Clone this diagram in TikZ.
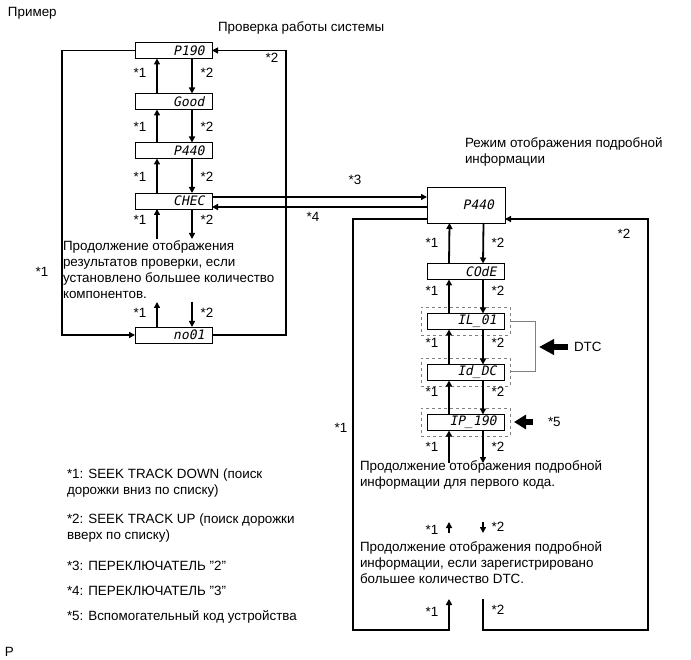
\documentclass[tikz,border=0pt]{standalone}
\usepackage{fontspec}
\setmainfont{Liberation Sans}
\newfontfamily\segfont[FakeSlant=0.2]{DejaVu Sans Mono}
\usetikzlibrary{arrows.meta}
\begin{document}
\begin{tikzpicture}[x=1pt,y=-1pt,
  every node/.style={inner sep=0pt, outer sep=0pt},
  txt/.style={font=\fontsize{13.4}{16}\selectfont, align=left},
  lbl/.style={font=\fontsize{13.4}{16}\selectfont},
  disp/.style={draw, line width=0.9pt, minimum height=16pt, text width=62pt, inner xsep=7.5pt, align=right, font=\segfont\fontsize{13}{13}\selectfont},
  dbox/.style={draw, dashed, gray, line width=0.8pt, minimum width=89pt, minimum height=28pt},
  arr/.style={line width=1.8pt, -{Triangle[length=6pt,width=6pt]}},
  fat/.style={line width=6pt, -{Triangle[length=15pt,width=15pt]}},
  fatsmall/.style={line width=6pt, -{Triangle[length=12pt,width=14pt]}},
  brk/.style={draw=gray, line width=1pt}
]
\useasboundingbox (0,0) rectangle (691,660);

% titles
\node[lbl, anchor=west] (t0) at (8,13) {Пример};
\node[lbl, anchor=west] (t1) at (218,28) {Проверка работы системы};
\node[txt, anchor=north west] (t2) at (465,138) {Режим отображения подробной\\информации};

% left column
\node[disp] (p190) at (173.5,50.5) {P190};
\node[disp] (good) at (173.5,101.5) {Good};
\node[disp] (p440a) at (173.5,150.5) {P440};
\node[disp] (chec) at (173.5,201) {CHEC};
\node[disp] (no01) at (173.5,335) {no01};

\foreach \a/\b in {good/p190, p440a/good, chec/p440a}{
  \draw[arr] ([xshift=-16.5pt]\a.north) -- ([xshift=-16.5pt]\b.south);
  \draw[arr] ([xshift=18.5pt]\b.south) -- ([xshift=18.5pt]\a.north);
}
\coordinate (cu1) at (157,239);
\coordinate (cd1) at (192,239);
\draw[arr] (cu1) -- (cu1 |- chec.south);
\draw[arr] (cd1 |- chec.south) -- (cd1);
\coordinate (nu1) at (157,302);
\coordinate (nd1) at (192,302);
\draw[arr] (nu1 |- no01.north) -- (nu1);
\draw[arr] (nd1) -- (nd1 |- no01.north);

\node[txt, anchor=north west] (ltext) at (63,241) {Продолжение отображения\\результатов проверки, если\\установлено большее количество\\компонентов.};

\coordinate (lx) at (62,335);
\draw[arr] (p190.west) -| (lx) -- (no01.west);
\coordinate (rx) at (286,335);
\draw[arr] (no01.east) -- (rx) |- (p190.east);

\foreach \y in {73,127,177,220,313}{
  \node[lbl] at (140,\y) {*1};
  \node[lbl] at (207,\y) {*2};
}
\node[lbl] (s2a) at (272,58) {*2};
\node[lbl] (s1a) at (42,272) {*1};

% big P440
\node[draw, line width=0.9pt, minimum width=78pt, minimum height=36pt, text width=56pt, inner xsep=11pt, align=right, font=\segfont\fontsize{13}{13}\selectfont] (big) at (466,205) {P440};

\draw[arr] ([yshift=4pt]chec.east) -- ([yshift=4pt]chec.east -| big.west);
\draw[arr] ([yshift=-6pt]chec.east -| big.west) -- ([yshift=-6pt]chec.east);
\node[lbl] (s3) at (355,180) {*3};
\node[lbl] (s4) at (313,217) {*4};

% right column
\node[disp] (code) at (465.5,271.5) {COdE};
\node[dbox] (ild) at (465.5,321.5) {};
\node[disp] (il) at (465.5,321.5) {IL\_01};
\node[dbox] (idd) at (465.5,372) {};
\node[disp] (id) at (465.5,372.5) {Id\_DC};
\node[dbox] (ipd) at (465.5,422) {};
\node[disp] (ip) at (465.5,422.5) {IP\_190};

\foreach \a/\b in {code/big, il/code, id/il, ip/id}{
  \draw[arr] ([xshift=-16.5pt]\a.north) -- ([xshift=-16.5pt]\b.south);
  \draw[arr] ([xshift=17.5pt]\b.south) -- ([xshift=17.5pt]\a.north);
}
\coordinate (iu1) at (449,463);
\coordinate (id1) at (483,463);
\draw[arr] (iu1) -- (iu1 |- ip.south);
\draw[arr] (id1 |- ip.south) -- (id1);

\foreach \y in {243,291,343,392,447}{
  \node[lbl] at (432,\y) {*1};
  \node[lbl] at (498,\y) {*2};
}

\node[txt, anchor=north west] (rtext1) at (360,461) {Продолжение отображения подробной\\информации для первого кода.};

\coordinate (mu0) at (449,533);
\coordinate (mu1) at (449,522);
\coordinate (md0) at (483,522);
\coordinate (md1) at (483,533);
\draw[arr] (mu0) -- (mu1);
\draw[arr] (md0) -- (md1);
\node[lbl] at (432,530) {*1};
\node[lbl] at (498,527) {*2};

\node[txt, anchor=north west] (rtext2) at (360,542) {Продолжение отображения подробной\\информации, если зарегистрировано\\большее количество DTC.};

\node[lbl] at (432,612) {*1};
\node[lbl] at (498,610) {*2};

% right loops
\coordinate (la) at (353,630);
\coordinate (lb) at (449,599);
\draw[arr] ([yshift=-14pt]big.west) -| (la) -| (lb);
\coordinate (rc) at (483,599);
\coordinate (rd) at (648,630);
\draw[arr] (rc) |- (rd) |- ([yshift=-14pt]big.east);
\node[lbl] (s2b) at (624,234) {*2};
\node[lbl] (s1b) at (341,428) {*1};

% DTC bracket
\coordinate (br) at (535,321.5);
\draw[brk] (ild.east) -- (br) |- (idd.east);
\coordinate (dtc0) at (568,347);
\coordinate (dtc1) at (539,347);
\draw[fat] (dtc0) -- (dtc1);
\node[lbl, anchor=west] (dtc) at (574,347) {DTC};
\coordinate (f0) at (533,422);
\coordinate (f1) at (514,422);
\draw[fatsmall] (f0) -- (f1);
\node[lbl, anchor=west] (s5) at (548,422) {*5};

% legend
\node[txt, anchor=north west] (lg1) at (67,469) {*1: SEEK TRACK DOWN (поиск\\дорожки вниз по списку)};
\node[txt, anchor=north west] (lg2) at (67,514) {*2: SEEK TRACK UP (поиск дорожки\\вверх по списку)};
\node[txt, anchor=north west] (lg3) at (67,561) {*3: ПЕРЕКЛЮЧАТЕЛЬ "2"};
\node[txt, anchor=north west] (lg4) at (67,586) {*4: ПЕРЕКЛЮЧАТЕЛЬ "3"};
\node[txt, anchor=north west] (lg5) at (67,611) {*5: Вспомогательный код устройства};

\node[lbl, anchor=west] (pp) at (5,652) {P};
\end{tikzpicture}
\end{document}
